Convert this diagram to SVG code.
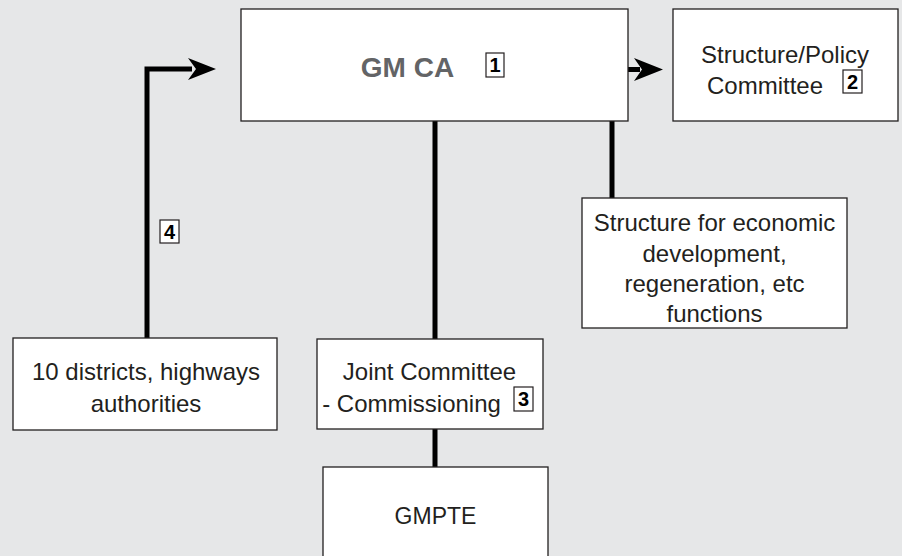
<svg xmlns="http://www.w3.org/2000/svg" width="902" height="556" viewBox="0 0 902 556">
<style>
.box{fill:#ffffff;stroke:#231f20;stroke-width:1.3}
.t{font-family:"Liberation Sans",Arial,sans-serif;font-size:24px;fill:#231f20;text-anchor:middle}
.num{fill:#ffffff;stroke:#231f20;stroke-width:1.2}
.nt{font-family:"Liberation Sans",Arial,sans-serif;font-size:20px;font-weight:bold;fill:#000;text-anchor:middle}
.ln{fill:none;stroke:#000;stroke-width:5}
.ah{fill:#000}
</style>
<rect x="0" y="0" width="902" height="556" fill="#e6e7e8"/>
<g id="connectors">
<path class="ln" d="M147 338 V69 H192" stroke-linejoin="miter"/>
<polygon class="ah" points="216,69 188,58 196,69 188,80"/>
<path class="ln" d="M628 69.5 H640"/>
<polygon class="ah" points="663,69.5 634,58 642,69.5 634,81"/>
<path class="ln" d="M435 121 V339"/>
<path class="ln" d="M435 429 V467"/>
<path class="ln" d="M612 121 V198"/>
<g id="label4">
<rect class="num" x="160" y="220" width="19" height="23"/>
<text class="nt" x="169.5" y="239">4</text>
</g>
</g>
<g id="gmca">
<rect class="box" x="241" y="9" width="387" height="112"/>
<text x="407.5" y="77" font-family="'Liberation Sans',Arial,sans-serif" font-size="28" font-weight="bold" fill="#636466" text-anchor="middle">GM CA</text>
<rect class="num" x="486" y="53" width="18" height="24"/>
<text class="nt" x="495" y="72">1</text>
</g>
<g id="structure-policy">
<rect class="box" x="673" y="9" width="225" height="112"/>
<text class="t" x="785" y="63">Structure/Policy</text>
<text class="t" x="765" y="94">Committee</text>
<rect class="num" x="843" y="70" width="19" height="23"/>
<text class="nt" x="852.5" y="89">2</text>
</g>
<g id="economic">
<rect class="box" x="582" y="198" width="265" height="130"/>
<text class="t" x="714.5" y="231">Structure for economic</text>
<text class="t" x="714.5" y="262">development,</text>
<text class="t" x="714.5" y="292">regeneration, etc</text>
<text class="t" x="714.5" y="322">functions</text>
</g>
<g id="districts">
<rect class="box" x="13" y="338" width="264" height="92"/>
<text class="t" x="146" y="380">10 districts, highways</text>
<text class="t" x="146" y="412">authorities</text>
</g>
<g id="joint">
<rect class="box" x="317" y="339" width="226" height="90"/>
<text class="t" x="429.5" y="380">Joint Committee</text>
<text class="t" x="411.5" y="412">- Commissioning</text>
<rect class="num" x="514" y="387" width="19" height="24"/>
<text class="nt" x="523.5" y="406">3</text>
</g>
<g id="gmpte">
<rect class="box" x="323" y="467" width="225" height="100"/>
<text class="t" x="435.5" y="524" style="font-size:23px">GMPTE</text>
</g>
</svg>
